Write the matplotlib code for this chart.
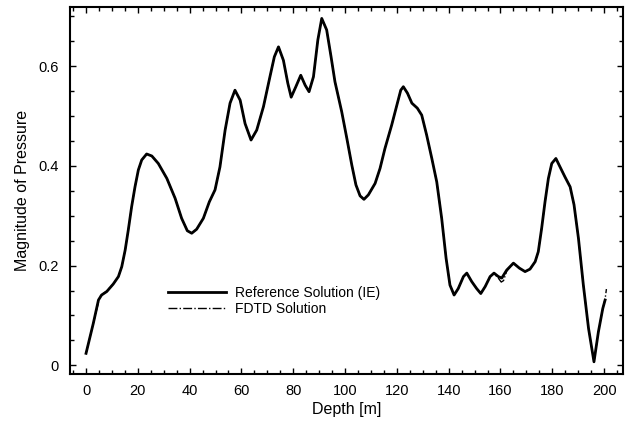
import matplotlib
matplotlib.use("Agg")
import matplotlib.pyplot as plt
from matplotlib.ticker import MultipleLocator

plt.rcParams['font.family'] = ['Liberation Sans', 'DejaVu Sans']

# Reference solution (IE)
ref_depth = [0, 2.8, 4.8, 6.0, 8.0, 10.5, 12.5, 13.8, 15.1, 16.3, 17.6, 18.9, 20.2, 21.5, 23.4,
             25.4, 27.9, 31.2, 34.4, 36.9, 39.1, 40.8, 42.7, 45.3, 47.6, 49.8, 51.7, 53.7, 55.6,
             57.5, 59.5, 61.4, 63.7, 65.9, 68.5, 71.0, 72.7, 74.3, 76.2, 77.9, 79.2, 81.0, 82.9,
             84.6, 86.1, 87.8, 89.5, 91.0, 92.9, 94.6, 96.1, 98.7, 100.7, 102.6, 104.2, 105.8,
             107.3, 109.0, 111.6, 113.5, 115.4, 118.0, 120.0, 121.5, 122.5, 124.1, 125.8, 127.9,
             129.6, 131.5, 133.5, 135.4, 137.3, 139.0, 140.5, 142.1, 143.7, 145.7, 147.0, 148.9,
             150.8, 152.4, 154.1, 156.0, 157.5, 159.2, 160.5, 162.4, 165.0, 167.3, 169.5, 171.4,
             173.4, 174.6, 175.9, 177.2, 178.5, 179.8, 181.4, 183.0, 184.9, 186.9, 188.4, 190.1,
             192.0, 194.0, 196.1, 197.8, 199.5, 200.4]
ref_mag = [0.024, 0.084, 0.131, 0.141, 0.148, 0.163, 0.178, 0.198, 0.231, 0.271, 0.318, 0.358,
           0.392, 0.412, 0.424, 0.420, 0.405, 0.375, 0.335, 0.295, 0.270, 0.265, 0.273, 0.295,
           0.328, 0.352, 0.398, 0.472, 0.526, 0.552, 0.532, 0.485, 0.452, 0.472, 0.519, 0.579,
           0.619, 0.639, 0.612, 0.566, 0.538, 0.559, 0.582, 0.562, 0.549, 0.579, 0.653, 0.696,
           0.673, 0.619, 0.569, 0.509, 0.455, 0.402, 0.362, 0.340, 0.333, 0.342, 0.365, 0.395,
           0.435, 0.482, 0.522, 0.552, 0.559, 0.546, 0.526, 0.516, 0.502, 0.462, 0.415, 0.368,
           0.295, 0.215, 0.161, 0.141, 0.154, 0.178, 0.185, 0.168, 0.154, 0.144, 0.158, 0.178,
           0.185, 0.178, 0.175, 0.191, 0.205, 0.195, 0.188, 0.193, 0.208, 0.228, 0.275, 0.328,
           0.375, 0.405, 0.415, 0.398, 0.378, 0.358, 0.322, 0.255, 0.161, 0.074, 0.007, 0.067,
           0.114, 0.131]

# FDTD solution (mostly hidden under the reference curve)
fdtd_depth = [0, 2.8, 4.6, 5.2, 6.2, 8.0, 10.5, 12.5, 13.8, 15.1, 16.3, 17.6, 18.9, 20.2, 21.5,
              23.4, 25.4, 27.9, 31.2, 34.4, 36.9, 39.1, 40.8, 42.7, 45.3, 47.6, 49.8, 51.7, 53.7,
              55.6, 57.5, 59.5, 61.4, 63.7, 65.9, 68.5, 71.0, 72.7, 74.3, 76.2, 77.9, 79.2, 81.0,
              82.9, 84.6, 86.1, 87.8, 89.5, 91.0, 92.9, 94.6, 96.1, 98.7, 100.7, 102.6, 104.2,
              105.8, 107.3, 109.0, 111.6, 113.5, 115.4, 118.0, 120.0, 121.5, 122.5, 124.1, 125.8,
              127.9, 129.6, 131.5, 133.5, 135.4, 137.3, 139.0, 140.5, 142.1, 143.7, 145.7, 147.0,
              148.9, 150.8, 152.4, 154.1, 156.0, 157.5, 159.0, 160.3, 161.2, 162.4, 165.0, 167.3,
              169.5, 171.4, 173.4, 174.6, 175.9, 177.2, 178.5, 179.8, 181.4, 183.0, 184.9, 186.9,
              188.4, 190.1, 192.0, 194.0, 196.1, 197.8, 199.5, 200.4, 200.9]
fdtd_mag = [0.024, 0.084, 0.122, 0.137, 0.142, 0.149, 0.163, 0.178, 0.198, 0.231, 0.271, 0.318,
            0.358, 0.392, 0.412, 0.424, 0.420, 0.405, 0.375, 0.335, 0.295, 0.270, 0.265, 0.273,
            0.295, 0.328, 0.352, 0.398, 0.472, 0.526, 0.552, 0.532, 0.485, 0.452, 0.472, 0.519,
            0.579, 0.619, 0.639, 0.612, 0.566, 0.538, 0.559, 0.582, 0.562, 0.549, 0.579, 0.653,
            0.696, 0.673, 0.619, 0.569, 0.509, 0.455, 0.402, 0.362, 0.340, 0.333, 0.342, 0.365,
            0.395, 0.435, 0.482, 0.522, 0.552, 0.559, 0.546, 0.526, 0.516, 0.502, 0.462, 0.415,
            0.368, 0.295, 0.215, 0.161, 0.141, 0.154, 0.178, 0.185, 0.168, 0.154, 0.144, 0.158,
            0.178, 0.184, 0.176, 0.167, 0.170, 0.189, 0.205, 0.195, 0.188, 0.193, 0.208, 0.228,
            0.275, 0.328, 0.375, 0.405, 0.415, 0.398, 0.378, 0.358, 0.322, 0.255, 0.161, 0.074,
            0.007, 0.067, 0.114, 0.133, 0.153]

fig = plt.figure(figsize=(6.27, 4.23), dpi=100)
ax = fig.add_axes([0.1116, 0.1158, 0.882, 0.8677])

ax.plot(fdtd_depth, fdtd_mag, color='black', lw=1.0, ls='-.', label='FDTD Solution', zorder=2)
ax.plot(ref_depth, ref_mag, color='black', lw=2.0, ls='-', label='Reference Solution (IE)',
        zorder=3, solid_joinstyle='round')

ax.set_xlim(-6.2, 207.3)
ax.set_ylim(-0.0175, 0.719)
ax.xaxis.set_minor_locator(MultipleLocator(5))
ax.yaxis.set_minor_locator(MultipleLocator(0.05))
ax.set_xticks([0, 20, 40, 60, 80, 100, 120, 140, 160, 180, 200])
ax.set_xticklabels(['0', '20', '40', '60', '80', '100', '120', '140', '160', '180', '200'])
ax.set_yticks([0, 0.2, 0.4, 0.6])
ax.set_yticklabels(['0', '0.2', '0.4', '0.6'])

ax.tick_params(which='both', direction='in', top=True, right=True, color='black')
ax.tick_params(which='major', length=4, width=1, labelsize=10.5, pad=7)
ax.tick_params(which='minor', length=3, width=1)
ax.tick_params(axis='y', which='major', pad=8)
for s in ax.spines.values():
    s.set_linewidth(1.5)

ax.set_xlabel('Depth [m]', fontsize=11.5, labelpad=3)
ax.set_ylabel('Magnitude of Pressure', fontsize=11.5, labelpad=6)

handles, labels = ax.get_legend_handles_labels()
ax.legend(handles[::-1], labels[::-1], loc='upper left', bbox_to_anchor=(0.167, 0.255),
          frameon=False, fontsize=10, handlelength=4.2, handletextpad=0.6,
          labelspacing=0.15, borderaxespad=0)

fig.savefig('out.png', dpi=100)
